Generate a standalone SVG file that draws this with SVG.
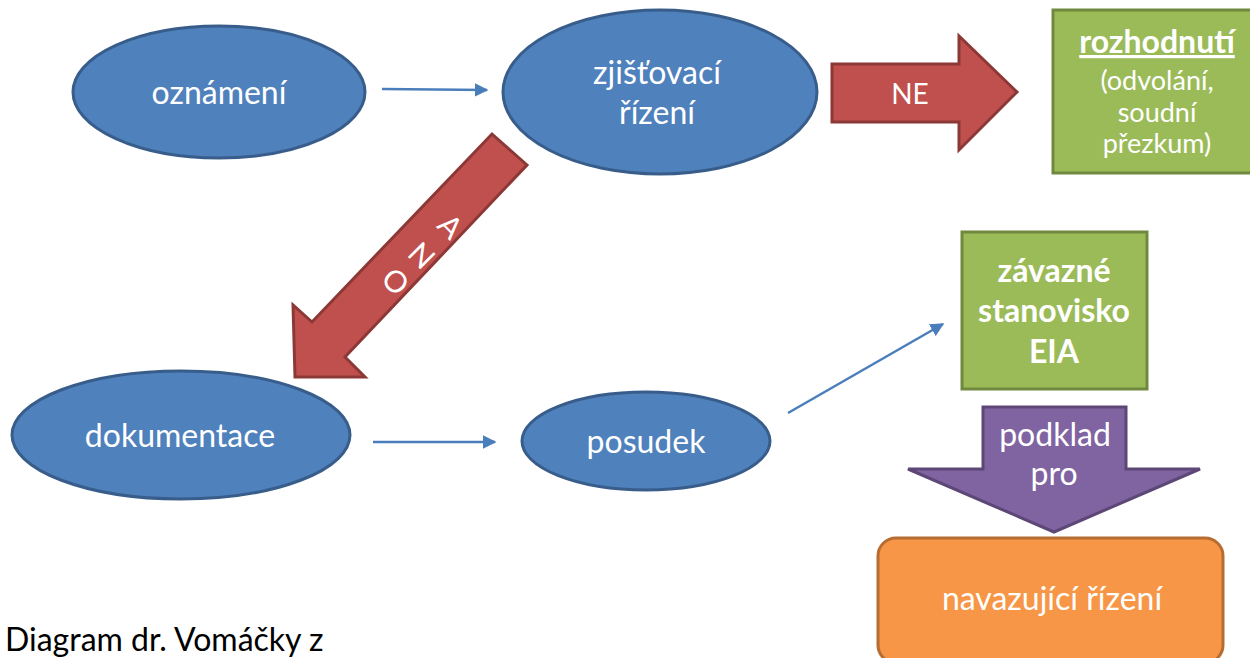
<svg xmlns="http://www.w3.org/2000/svg" width="1250" height="658" viewBox="0 0 1250 658">
<defs>
<style>
.ell{fill:#4f81bd;stroke:#385d8a;stroke-width:3}
.red{fill:#c0504d;stroke:#8c3836;stroke-width:3;stroke-linejoin:miter}
.grn{fill:#9bbb59;stroke:#71893f;stroke-width:3}
.pur{fill:#8064a2;stroke:#5c4776;stroke-width:3}
.org{fill:#f79646;stroke:#b66d31;stroke-width:3}
.t{font-family:Lato,"Open Sans","Liberation Sans",sans-serif;fill:#ffffff;text-anchor:middle;font-size:32px}
.b{font-weight:bold}
.s{font-size:27px}
.ano{font-size:30px}
.con{stroke:#4a7ebb;stroke-width:2.5;fill:none}
</style>
<marker id="ah" viewBox="0 0 10 10" refX="9" refY="5" markerWidth="5.5" markerHeight="5.5" orient="auto" markerUnits="strokeWidth">
<path d="M0,0 L10,5 L0,10 z" fill="#4a7ebb"/>
</marker>
</defs>
<rect width="1250" height="658" fill="#ffffff"/>

<g id="oznameni">
<ellipse class="ell" cx="219" cy="92" rx="146" ry="66"/>
<text class="t" x="219" y="104">oznámení</text>
</g>

<g id="zjistovaci">
<ellipse class="ell" cx="660" cy="92" rx="157" ry="82"/>
<text class="t" x="657" y="84">zjišťovací</text>
<text class="t" x="657" y="124">řízení</text>
</g>

<g id="dokumentace">
<ellipse class="ell" cx="181" cy="435" rx="169" ry="64"/>
<text class="t" x="180" y="447">dokumentace</text>
</g>

<g id="posudek">
<ellipse class="ell" cx="646" cy="441" rx="124" ry="49"/>
<text class="t" x="646" y="453">posudek</text>
</g>

<g id="ne-arrow">
<polygon class="red" points="832,64 959,64 959,36 1017,92 959,150 959,122 832,122"/>
<text class="t" x="910" y="104" style="font-size:28px">NE</text>
</g>

<g id="ano-arrow">
<polygon class="red" points="492,134 527,165 345,357 365,377 295,377 293,305 312,322"/>
<text class="t ano" transform="translate(443,234) rotate(45)">A</text>
<text class="t ano" transform="translate(414,263) rotate(45)">N</text>
<text class="t ano" transform="translate(388,289) rotate(45)">O</text>
</g>

<g id="rozhodnuti">
<rect class="grn" x="1053" y="10" width="210" height="163"/>
<text class="t b" x="1157" y="53" style="text-decoration:underline">rozhodnutí</text>
<text class="t s" x="1157" y="90">(odvolání,</text>
<text class="t s" x="1157" y="122">soudní</text>
<text class="t s" x="1157" y="153">přezkum)</text>
</g>

<g id="zavazne">
<rect class="grn" x="962" y="232" width="185" height="157"/>
<text class="t b" x="1054" y="282">závazné</text>
<text class="t b" x="1054" y="322">stanovisko</text>
<text class="t b" x="1054" y="363">EIA</text>
</g>

<g id="podklad">
<polygon class="pur" points="983,407 1126,407 1126,469 1200,469 1054,532 908,469 983,469"/>
<text class="t" x="1055" y="446">podklad</text>
<text class="t" x="1054" y="485">pro</text>
</g>

<g id="navazujici">
<rect class="org" x="878" y="538" width="345" height="125" rx="18"/>
<text class="t" x="1052" y="610">navazující řízení</text>
</g>

<g id="connectors">
<line class="con" x1="382" y1="89" x2="487" y2="90" marker-end="url(#ah)"/>
<line class="con" x1="373" y1="442" x2="495" y2="442" marker-end="url(#ah)"/>
<line class="con" x1="788" y1="413" x2="943" y2="324" marker-end="url(#ah)"/>
</g>

<text id="caption" x="5" y="651" style="font-family:Lato,'Open Sans','Liberation Sans',sans-serif;font-size:32px;fill:#000000">Diagram dr. Vomáčky z</text>
</svg>
